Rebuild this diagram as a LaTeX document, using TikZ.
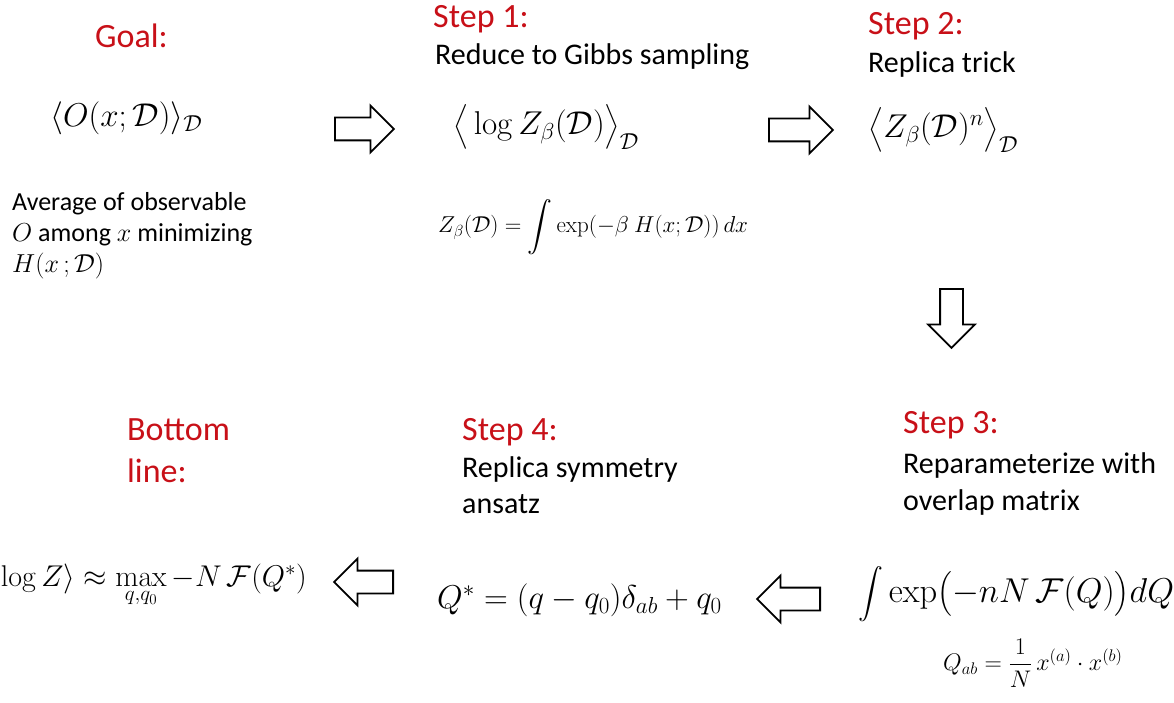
\RequirePackage{fix-cm}
\documentclass[tikz,border=0pt]{standalone}
\usepackage[no-math]{fontspec}
\setmainfont{Carlito}
\usepackage{amsmath}
\usetikzlibrary{shapes.arrows,positioning}
\definecolor{StepRed}{RGB}{200,16,24}
\tikzset{
  heading/.style={text=StepRed,font=\fontsize{34}{42}\selectfont,
    anchor=base west,inner sep=0pt,align=left},
  note/.style={font=\fontsize{30}{36}\selectfont,anchor=base west,
    inner sep=0pt,align=left},
  formula/.style={font=\fontsize{33}{38}\selectfont,inner sep=0pt},
  small formula/.style={font=\fontsize{23}{28}\selectfont,inner sep=0pt},
  block/.style={single arrow,draw=black,fill=white,line width=1.8pt,
    inner sep=0pt,inner ysep=10.5pt,single arrow head extend=12pt,
    minimum height=59pt,anchor=tail}
}

\begin{document}
\begin{tikzpicture}[x=1pt,y=-1pt]

\useasboundingbox (0,0) rectangle (1174,703);

% goal
\node[heading] (goal) at (95,48) {Goal:};
\node[formula,anchor=west] (goalf) at (50,118)
  {$\langle O(x;\mathcal{D})\rangle_{\mathcal{D}}$};
\node[note,font=\fontsize{26}{31}\selectfont] (goaltxt) at (12,272)
  {Average of observable\\ $O$ among $x$ minimizing\\ $H(x\,;\mathcal{D})$};

% step 1
\node[heading] (step1) at (433,28) {Step 1:};
\node[note] (step1txt) at (435,65) {Reduce to Gibbs sampling};
\node[formula,anchor=west] (step1f) at (453,127)
  {$\big\langle \log Z_\beta(\mathcal{D})\big\rangle_{\mathcal{D}}$};
\node[small formula,anchor=west] (partf) at (438,227)
  {$Z_\beta(\mathcal{D})=\displaystyle\int\exp(-\beta\ H(x;\mathcal{D}))\,dx$};

% step 2
\node[heading] (step2) at (868,35) {Step 2:};
\node[note] (step2txt) at (868,73) {Replica trick};
\node[formula,anchor=west] (step2f) at (868,130)
  {$\big\langle Z_\beta(\mathcal{D})^n\big\rangle_{\mathcal{D}}$};

% step 3
\node[heading] (step3) at (903,433) {Step 3:};
\node[note,font=\fontsize{30}{37}\selectfont] (step3txt) at (903,510)
  {Reparameterize with\\ overlap matrix};
\node[formula,font=\fontsize{34.5}{40}\selectfont,anchor=west] (step3f) at (858,594)
  {$\displaystyle\int\exp\bigl(-nN\,\mathcal{F}(Q)\bigr)dQ$};
\node[small formula,font=\fontsize{24}{28}\selectfont,anchor=west] (overlapf)
  at (943,663) {$Q_{ab}=\dfrac{1}{N}\,x^{(a)}\cdot x^{(b)}$};

% step 4
\node[heading] (step4) at (462,440) {Step 4:};
\node[note] (step4txt) at (462,513) {Replica symmetry\\ ansatz};
\node[formula,anchor=west] (step4f) at (437,600)
  {$Q^*=(q-q_0)\delta_{ab}+q_0$};

% bottom line
\node[heading] (bottom) at (127,482) {Bottom\\ line:};
\node[formula,font=\fontsize{30}{36}\selectfont,anchor=base east] (bottomf)
  at (307,586)
  {$\langle\log Z\rangle\approx\max\limits_{q,q_0}-N\,\mathcal{F}(Q^*)$};

% block arrows
\node[block] (a1) at (334,129) {};
\node[block,minimum height=64pt] (a2) at (768,130) {};
\node[block,rotate=-90] (a3) at (951.5,288) {};
\node[block,minimum height=63pt,rotate=180] (a4) at (821,599) {};
\node[block,rotate=180] (a5) at (394,582) {};

\end{tikzpicture}
\end{document}
